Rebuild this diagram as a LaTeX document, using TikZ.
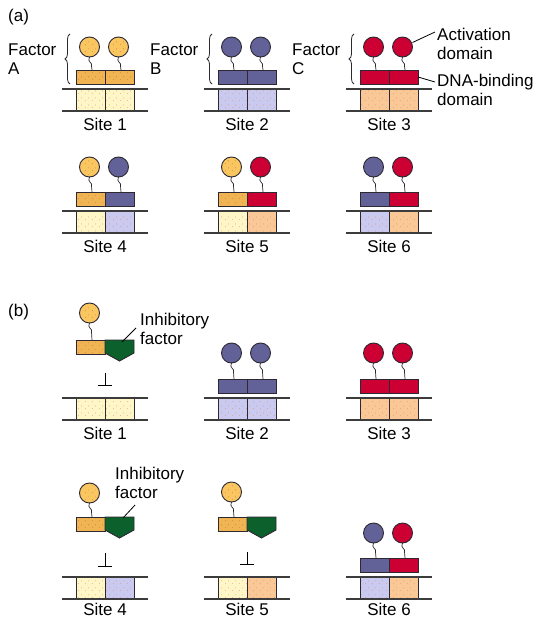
\documentclass[tikz,border=0pt]{standalone}
\usepackage{fontspec}
\setmainfont{Liberation Sans}
\usetikzlibrary{patterns.meta,decorations.pathreplacing}

\definecolor{facA}{RGB}{240,180,82}
\definecolor{circA}{RGB}{250,198,96}
\definecolor{facB}{RGB}{98,98,152}
\definecolor{facC}{RGB}{204,0,51}
\definecolor{inhib}{RGB}{12,96,44}
\definecolor{siteA}{RGB}{255,246,200}
\definecolor{siteB}{RGB}{202,202,240}
\definecolor{siteC}{RGB}{250,200,150}
\definecolor{dotc}{RGB}{215,140,90}
\definecolor{dotA}{RGB}{200,120,70}
\definecolor{edgec}{RGB}{45,40,50}
\definecolor{dnal}{RGB}{60,60,60}

\tikzdeclarepattern{
  name=stip,
  type=uncolored,
  bottom left={(0pt,0pt)},
  top right={(7pt,7pt)},
  tile size={(7pt,7pt)},
  code={
    \pgfpathcircle{\pgfqpoint{1.5pt}{1.5pt}}{0.45pt}
    \pgfpathcircle{\pgfqpoint{5pt}{4.5pt}}{0.45pt}
    \pgfusepath{fill}
  }
}

\tikzset{
  boxe/.style={draw=edgec, line width=0.9pt},
  dna/.style={draw=dnal, line width=1.3pt},
  lbl/.style={font=\fontsize{17}{19}\selectfont, inner sep=0pt},
  stemline/.style={draw=edgec, line width=0.7pt},
  leader/.style={draw=black, line width=0.8pt},
  bracestyle/.style={draw=edgec, line width=0.8pt, decorate, decoration={brace, amplitude=5pt}},
  blockmark/.style={draw=black, line width=0.8pt},
}

% #1 node name, #2 centre x, #3 top line y, #4 left colour, #5 right colour, #6 label, #7 label offset
\newcommand{\dnasite}[7]{%
  \fill[#4] (#2-29,#3) rectangle (#2,#3+22);
  \fill[#5] (#2,#3) rectangle (#2+29,#3+22);
  \fill[pattern=stip, pattern color=dotc] (#2-28,#3+2) rectangle (#2+28,#3+20);
  \draw[boxe] (#2-29,#3) -- (#2-29,#3+22) (#2,#3) -- (#2,#3+22) (#2+29,#3) -- (#2+29,#3+22);
  \draw[dna] (#2-43,#3) -- (#2+43,#3) (#2-43,#3+22) -- (#2+43,#3+22);
  \node[lbl] (#1) at (#2,#3+#7) {#6};
}

% #1 box left x, #2 box top y, #3 circle y, #4 box colour, #5 circle colour
\newcommand{\fachalf}[5]{%
  \draw[stemline] (#1+13.5,#3+10) .. controls (#1+10.5,#3+15) and (#1+17.5,#3+16) .. (#1+15.5,#3+19) -- (#1+16,#2);
  \filldraw[boxe, fill=#4] (#1,#2) rectangle (#1+29,#2+14);
  \filldraw[boxe, fill=#5] (#1+13.5,#3) circle (10pt);
}
\newcommand{\halfA}[3]{%
  \fachalf{#1}{#2}{#3}{facA}{circA}
  \fill[pattern=stip, pattern color=dotA] (#1+1.5,#2+1.5) rectangle (#1+27.5,#2+12.5);
  \fill[pattern=stip, pattern color=dotA] (#1+13.5,#3) circle (8pt);
}
\newcommand{\halfB}[3]{\fachalf{#1}{#2}{#3}{facB}{facB}}
\newcommand{\halfC}[3]{\fachalf{#1}{#2}{#3}{facC}{facC}}

% inhibitory factor: #1 left x, #2 top y
\newcommand{\inhibpart}[2]{%
  \filldraw[boxe, fill=inhib] (#1,#2) -- (#1+29,#2) -- (#1+29,#2+13) -- (#1+14.5,#2+21) -- (#1,#2+13) -- cycle;
}
% blocking mark: #1 x, #2 top y, #3 bottom y
\newcommand{\blockT}[3]{%
  \draw[blockmark] (#1,#2) -- (#1,#3) (#1-7,#3) -- (#1+7,#3);
}

\begin{document}
\begin{tikzpicture}[x=1pt,y=-1pt]
\useasboundingbox (0,0) rectangle (540,620);

% ---------- (a) ----------
\node[lbl, anchor=west] (pa) at (8,17) {(a)};

% row 1
\halfA{76}{70}{47} \halfA{105}{70}{47}
\halfB{218}{70}{47} \halfB{247}{70}{47}
\halfC{360}{70}{47} \halfC{389}{70}{47}
\dnasite{s1}{105}{89}{siteA}{siteA}{Site 1}{35}
\dnasite{s2}{247}{89}{siteB}{siteB}{Site 2}{35}
\dnasite{s3}{389}{89}{siteC}{siteC}{Site 3}{35}

\draw[bracestyle] (70,84) -- (70,34);
\draw[bracestyle] (212,84) -- (212,34);
\draw[bracestyle] (354,84) -- (354,34);
\node[lbl, anchor=west, align=left] (fA) at (8,59.5) {Factor\\A};
\node[lbl, anchor=west, align=left] (fB) at (150,59.5) {Factor\\B};
\node[lbl, anchor=west, align=left] (fC) at (292,59.5) {Factor\\C};

\node[lbl, anchor=west, align=left] (act) at (437,43.5) {Activation\\domain};
\node[lbl, anchor=west, align=left] (dbd) at (437,90) {DNA-binding\\domain};
\coordinate (actA) at (435,32);
\coordinate (actB) at (412.5,42.5);
\coordinate (dbdA) at (435,82);
\coordinate (dbdB) at (418,77);
\draw[leader] (actA) -- (actB);
\draw[leader] (dbdA) -- (dbdB);

% row 2
\halfA{76}{192}{167} \halfB{105}{192}{167}
\halfA{218}{192}{167} \halfC{247}{192}{167}
\halfB{360}{192}{167} \halfC{389}{192}{167}
\dnasite{s4}{105}{211}{siteA}{siteB}{Site 4}{35}
\dnasite{s5}{247}{211}{siteA}{siteC}{Site 5}{35}
\dnasite{s6}{389}{211}{siteB}{siteC}{Site 6}{35}

% ---------- (b) ----------
\node[lbl, anchor=west] (pb) at (8,312) {(b)};

% row 1
\halfA{76}{340}{313} \inhibpart{105}{340}
\blockT{105}{373}{385}
\node[lbl, anchor=west, align=left] (inh1) at (140,328.5) {Inhibitory\\factor};
\coordinate (inh1a) at (136,328);
\coordinate (inh1b) at (122,342);
\draw[leader] (inh1a) -- (inh1b);

\halfB{218}{379}{353} \halfB{247}{379}{353}
\halfC{360}{379}{353} \halfC{389}{379}{353}
\dnasite{t1}{105}{398}{siteA}{siteA}{Site 1}{35}
\dnasite{t2}{247}{398}{siteB}{siteB}{Site 2}{35}
\dnasite{t3}{389}{398}{siteC}{siteC}{Site 3}{35}

% row 2
\halfA{76}{517}{493} \inhibpart{105}{517}
\blockT{105}{553}{566}
\node[lbl, anchor=west, align=left] (inh2) at (115,482.5) {Inhibitory\\factor};
\coordinate (inh2a) at (135,505);
\coordinate (inh2b) at (123,518);
\draw[leader] (inh2a) -- (inh2b);

\halfA{218}{517}{492} \inhibpart{247}{517}
\blockT{247}{552}{564}

\halfB{360}{558}{533} \halfC{389}{558}{533}
\dnasite{t4}{105}{577}{siteA}{siteB}{Site 4}{32}
\dnasite{t5}{247}{577}{siteA}{siteC}{Site 5}{32}
\dnasite{t6}{389}{577}{siteB}{siteC}{Site 6}{32}
\end{tikzpicture}
\end{document}
